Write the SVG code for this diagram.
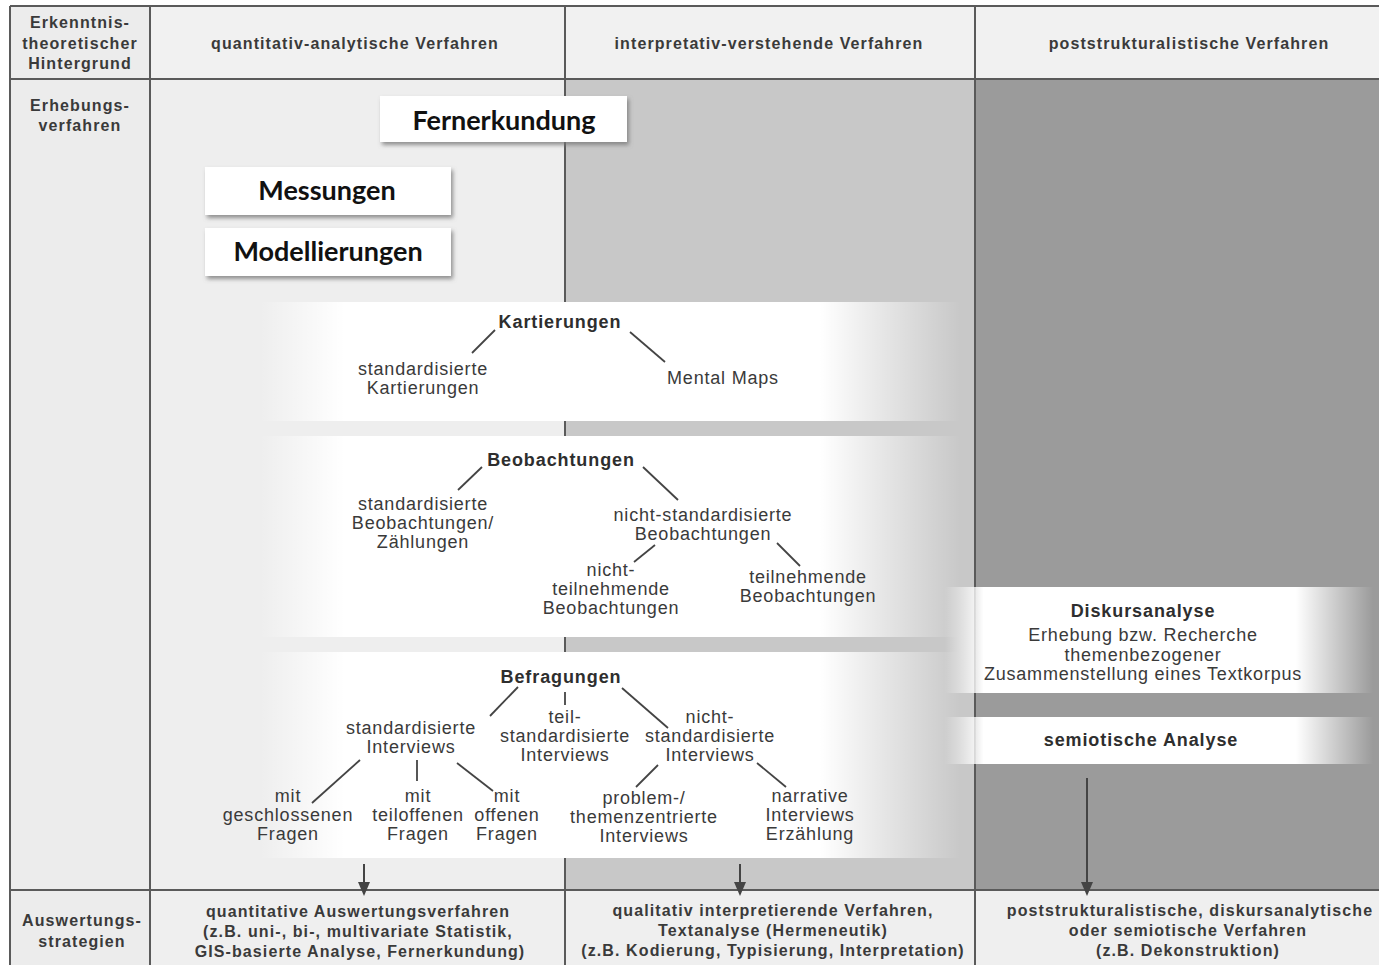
<svg xmlns="http://www.w3.org/2000/svg" width="1379" height="965" viewBox="0 0 1379 965">
<style>
.hd{font-family:"Liberation Sans",Arial,sans-serif;font-weight:bold;font-size:16px;letter-spacing:1.1px;fill:#3a3a3a;text-anchor:middle}
.bx{font-family:Lato,"Open Sans",sans-serif;font-weight:bold;font-size:27px;fill:#111;text-anchor:middle}
.tb{font-family:"Liberation Sans",Arial,sans-serif;font-weight:bold;font-size:18px;letter-spacing:0.9px;fill:#2e2e2e;text-anchor:middle}
.tr{font-family:"Liberation Sans",Arial,sans-serif;font-size:18px;letter-spacing:0.8px;fill:#3a3a3a;text-anchor:middle}
.grid{stroke:#5a5a5a;stroke-width:2;fill:none}
.ln{stroke:#444;stroke-width:1.8;fill:none}
.ar{stroke:#444;stroke-width:2;fill:none}
.ah{fill:#444}
.card{fill:#fff}
</style>
<defs>
<linearGradient id="band" x1="0" y1="0" x2="1" y2="0">
<stop offset="0" stop-color="#fff" stop-opacity="0"/>
<stop offset="0.12" stop-color="#fff" stop-opacity="1"/>
<stop offset="0.8" stop-color="#fff" stop-opacity="1"/>
<stop offset="1" stop-color="#fff" stop-opacity="0"/>
</linearGradient>
<linearGradient id="band2" x1="0" y1="0" x2="1" y2="0">
<stop offset="0" stop-color="#fff" stop-opacity="0"/>
<stop offset="0.09" stop-color="#fff" stop-opacity="1"/>
<stop offset="0.82" stop-color="#fff" stop-opacity="1"/>
<stop offset="1" stop-color="#fff" stop-opacity="0"/>
</linearGradient>
<filter id="sh" x="-10%" y="-20%" width="130%" height="160%">
<feDropShadow dx="2" dy="3" stdDeviation="2" flood-color="#777" flood-opacity="0.8"/>
</filter>
</defs>

<g id="background">
<rect x="0" y="0" width="1379" height="965" fill="#fff"/>
<rect x="10" y="6" width="140" height="959" fill="#ececec"/>
<rect x="150" y="6" width="1229" height="73" fill="#f1f1f1"/>
<rect x="150" y="79" width="415" height="811" fill="#eeeeee"/>
<rect x="565" y="79" width="410" height="811" fill="#c8c8c8"/>
<rect x="975" y="79" width="404" height="811" fill="#9b9b9b"/>
<rect x="150" y="890" width="1229" height="75" fill="#efefef"/>
<line class="grid" x1="565" y1="79" x2="565" y2="890"/>
<line class="grid" x1="975" y1="79" x2="975" y2="890"/>
</g>

<g id="bands">
<rect x="260" y="302" width="700" height="119" fill="url(#band)"/>
<rect x="260" y="436" width="700" height="201" fill="url(#band)"/>
<rect x="260" y="652" width="700" height="206" fill="url(#band)"/>
<rect x="945" y="587" width="428" height="106" fill="url(#band2)"/>
<rect x="945" y="717" width="428" height="47" fill="url(#band2)"/>
</g>

<g id="grid">
<line class="grid" x1="10" y1="6" x2="1379" y2="6"/>
<line class="grid" x1="10" y1="79" x2="1379" y2="79"/>
<line class="grid" x1="10" y1="890" x2="1379" y2="890"/>
<line class="grid" x1="10" y1="6" x2="10" y2="965"/>
<line class="grid" x1="150" y1="6" x2="150" y2="965"/>
<line class="grid" x1="565" y1="6" x2="565" y2="79"/>
<line class="grid" x1="975" y1="6" x2="975" y2="79"/>
<line class="grid" x1="565" y1="890" x2="565" y2="965"/>
<line class="grid" x1="975" y1="890" x2="975" y2="965"/>
</g>

<g id="row-header">
<text class="hd" x="80" y="28">Erkenntnis-</text>
<text class="hd" x="80" y="49">theoretischer</text>
<text class="hd" x="80" y="69">Hintergrund</text>
<text class="hd" x="355" y="49">quantitativ-analytische Verfahren</text>
<text class="hd" x="769" y="49">interpretativ-verstehende Verfahren</text>
<text class="hd" x="1189" y="49">poststrukturalistische Verfahren</text>
</g>
<g id="row-erhebung">
<text class="hd" x="80" y="111">Erhebungs-</text>
<text class="hd" x="80" y="131">verfahren</text>
</g>
<g id="row-auswertung">
<text class="hd" x="82" y="926">Auswertungs-</text>
<text class="hd" x="82" y="947">strategien</text>
</g>

<g id="fernerkundung">
<rect class="card" x="380" y="96" width="247" height="46" filter="url(#sh)"/>
<text class="bx" x="504" y="130">Fernerkundung</text>
</g>
<g id="messungen">
<rect class="card" x="205" y="167" width="246" height="48" filter="url(#sh)"/>
<text class="bx" x="327" y="200">Messungen</text>
</g>
<g id="modellierungen">
<rect class="card" x="205" y="228" width="246" height="48" filter="url(#sh)"/>
<text class="bx" x="328" y="261">Modellierungen</text>
</g>

<g id="kartierungen"><text class="tb" x="560" y="328">Kartierungen</text></g>
<g id="std-kartierungen"><text class="tr" x="423" y="375">standardisierte</text><text class="tr" x="423" y="394">Kartierungen</text></g>
<g id="mental-maps"><text class="tr" x="723" y="384">Mental Maps</text></g>

<g id="beobachtungen"><text class="tb" x="561" y="466">Beobachtungen</text></g>
<g id="std-beobachtungen"><text class="tr" x="423" y="510">standardisierte</text><text class="tr" x="423" y="529">Beobachtungen/</text><text class="tr" x="423" y="548">Zählungen</text></g>
<g id="nichtstd-beobachtungen"><text class="tr" x="703" y="521">nicht-standardisierte</text><text class="tr" x="703" y="540">Beobachtungen</text></g>
<g id="nicht-teilnehmende"><text class="tr" x="611" y="576">nicht-</text><text class="tr" x="611" y="595">teilnehmende</text><text class="tr" x="611" y="614">Beobachtungen</text></g>
<g id="teilnehmende"><text class="tr" x="808" y="583">teilnehmende</text><text class="tr" x="808" y="602">Beobachtungen</text></g>

<g id="befragungen"><text class="tb" x="561" y="683">Befragungen</text></g>
<g id="std-interviews"><text class="tr" x="411" y="734">standardisierte</text><text class="tr" x="411" y="753">Interviews</text></g>
<g id="teilstd-interviews"><text class="tr" x="565" y="723">teil-</text><text class="tr" x="565" y="742">standardisierte</text><text class="tr" x="565" y="761">Interviews</text></g>
<g id="nichtstd-interviews"><text class="tr" x="710" y="723">nicht-</text><text class="tr" x="710" y="742">standardisierte</text><text class="tr" x="710" y="761">Interviews</text></g>
<g id="geschlossen"><text class="tr" x="288" y="802">mit</text><text class="tr" x="288" y="821">geschlossenen</text><text class="tr" x="288" y="840">Fragen</text></g>
<g id="teiloffen"><text class="tr" x="418" y="802">mit</text><text class="tr" x="418" y="821">teiloffenen</text><text class="tr" x="418" y="840">Fragen</text></g>
<g id="offen"><text class="tr" x="507" y="802">mit</text><text class="tr" x="507" y="821">offenen</text><text class="tr" x="507" y="840">Fragen</text></g>
<g id="problemzentriert"><text class="tr" x="644" y="804">problem-/</text><text class="tr" x="644" y="823">themenzentrierte</text><text class="tr" x="644" y="842">Interviews</text></g>
<g id="narrativ"><text class="tr" x="810" y="802">narrative</text><text class="tr" x="810" y="821">Interviews</text><text class="tr" x="810" y="840">Erzählung</text></g>

<g id="diskursanalyse">
<text class="tb" x="1143" y="617">Diskursanalyse</text>
<text class="tr" x="1143" y="641">Erhebung bzw. Recherche</text>
<text class="tr" x="1143" y="661">themenbezogener</text>
<text class="tr" x="1143" y="680">Zusammenstellung eines Textkorpus</text>
</g>
<g id="semiotische-analyse">
<text class="tb" x="1141" y="746">semiotische Analyse</text>
</g>

<g id="quant-auswertung">
<text class="hd" x="358" y="917">quantitative Auswertungsverfahren</text>
<text class="hd" x="358" y="937">(z.B. uni-, bi-, multivariate Statistik,</text>
<text class="hd" x="360" y="957">GIS-basierte Analyse, Fernerkundung)</text>
</g>
<g id="qual-auswertung">
<text class="hd" x="773" y="916">qualitativ interpretierende Verfahren,</text>
<text class="hd" x="773" y="936">Textanalyse (Hermeneutik)</text>
<text class="hd" x="773" y="956">(z.B. Kodierung, Typisierung, Interpretation)</text>
</g>
<g id="post-auswertung">
<text class="hd" x="1190" y="916">poststrukturalistische, diskursanalytische</text>
<text class="hd" x="1188" y="936">oder semiotische Verfahren</text>
<text class="hd" x="1188" y="956">(z.B. Dekonstruktion)</text>
</g>

<g id="connectors">
<line class="ln" x1="495" y1="330" x2="472" y2="353"/>
<line class="ln" x1="630" y1="332" x2="665" y2="362"/>
<line class="ln" x1="482" y1="467" x2="458" y2="490"/>
<line class="ln" x1="643" y1="467" x2="678" y2="500"/>
<line class="ln" x1="655" y1="545" x2="634" y2="562"/>
<line class="ln" x1="777" y1="543" x2="800" y2="566"/>
<line class="ln" x1="518" y1="687" x2="490" y2="716"/>
<line class="ln" x1="565" y1="692" x2="565" y2="705"/>
<line class="ln" x1="622" y1="688" x2="668" y2="728"/>
<line class="ln" x1="360" y1="760" x2="312" y2="803"/>
<line class="ln" x1="417" y1="760" x2="417" y2="781"/>
<line class="ln" x1="457" y1="763" x2="493" y2="791"/>
<line class="ln" x1="658" y1="765" x2="636" y2="787"/>
<line class="ln" x1="757" y1="763" x2="786" y2="787"/>
<line class="ar" x1="364" y1="864" x2="364" y2="884"/>
<path class="ah" d="M358,882 L370,882 L364,896 z"/>
<line class="ar" x1="740" y1="864" x2="740" y2="884"/>
<path class="ah" d="M734,882 L746,882 L740,896 z"/>
<line class="ar" x1="1087" y1="778" x2="1087" y2="884"/>
<path class="ah" d="M1081,882 L1093,882 L1087,896 z"/>
</g>
</svg>
